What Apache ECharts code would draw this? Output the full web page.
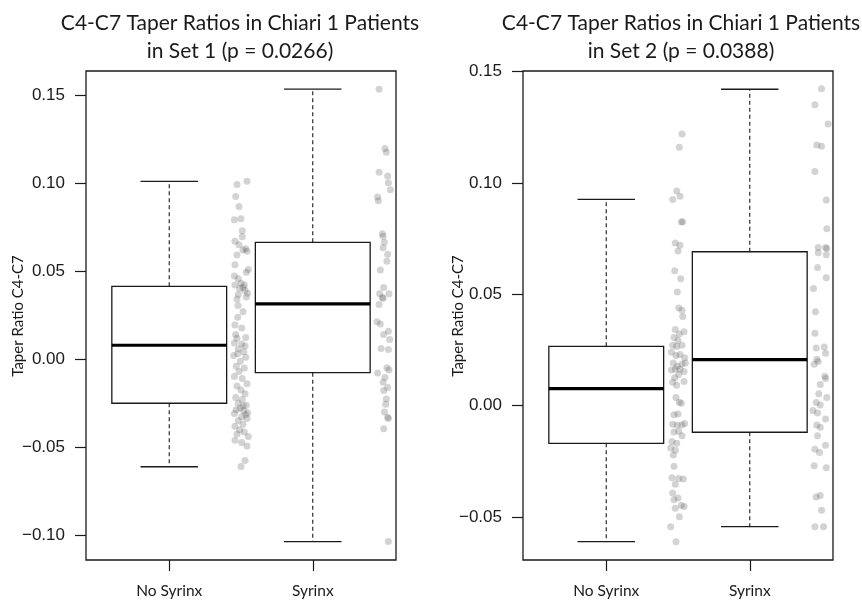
<!DOCTYPE html>
<html><head><meta charset="utf-8">
<script src="https://cdn.jsdelivr.net/npm/echarts@6/dist/echarts.min.js"></script>
<style>html,body{margin:0;padding:0;background:#fff}#c{width:862px;height:600px}</style>
</head><body><div id="c"></div>
<script>
// ---------- data ----------
const categories = ['No Syrinx', 'Syrinx'];
const title1 = ['C4-C7 Taper Ratios in Chiari 1 Patients', 'in Set 1 (p = 0.0266)'];
const title2 = ['C4-C7 Taper Ratios in Chiari 1 Patients', 'in Set 2 (p = 0.0388)'];
const yAxisName = 'Taper Ratio C4-C7';
const yTicks1 = [-0.10, -0.05, 0.00, 0.05, 0.10, 0.15];
const yTicks2 = [-0.05, 0.00, 0.05, 0.10, 0.15];

// box stats: [lower whisker, Q1, median, Q3, upper whisker]
const set1NoSyrinxBox = [-0.0613, -0.0252, 0.0078, 0.0413, 0.1010];
const set1SyrinxBox   = [-0.1038, -0.0078, 0.0313, 0.0663, 0.1534];
const set2NoSyrinxBox = [-0.0611, -0.0170, 0.0076, 0.0266, 0.0926];
const set2SyrinxBox   = [-0.0544, -0.0120, 0.0206, 0.0691, 0.1421];

// individual points (values) and their horizontal jitter (axis units)
const set1NoSyrinxValues = [0.1010,0.0992,0.0923,0.0866,0.0792,0.0797,0.0729,0.0695,0.0669,0.0649,0.0627,0.0612,0.0619,0.0591,0.0536,0.0508,0.0493,0.0471,0.0456,0.0430,0.0421,0.0406,0.0389,0.0373,0.0367,0.0352,0.0341,0.0304,0.0237,0.0193,0.0176,0.0139,0.0122,0.0091,0.0085,0.0056,0.0041,0.0020,0.0009,-0.0013,-0.0041,-0.0052,-0.0072,-0.0100,-0.0111,-0.0141,-0.0154,-0.0176,-0.0198,-0.0219,-0.0230,-0.0252,-0.0263,-0.0289,-0.0295,-0.0310,-0.0317,-0.0328,-0.0350,-0.0339,-0.0382,-0.0371,-0.0404,-0.0426,-0.0415,-0.0441,-0.0462,-0.0475,-0.0495,-0.0577,-0.0612,0.0421,0.0400,0.0269,0.0074,0.0030,-0.0267,-0.0280,-0.0306,0.0117];
const set1NoSyrinxJitter = [0.042,-0.028,-0.037,-0.014,-0.046,0,0.009,0.009,-0.042,-0.014,0.033,0.042,0.014,-0.028,-0.042,0.051,0.037,-0.046,-0.019,0,-0.042,0.014,0.028,0.046,-0.019,0.037,-0.028,-0.021,-0.023,-0.042,0.005,-0.037,0.033,-0.046,0.005,-0.019,0.019,-0.051,0.033,-0.005,-0.033,0.023,-0.014,-0.046,0.009,0.042,-0.028,0,0.028,-0.037,0.009,-0.019,0.037,-0.033,0.019,-0.046,0.033,0.005,-0.019,0.042,-0.042,0.014,-0.009,-0.028,0.023,0.051,-0.042,0.005,0.042,0.028,0,0.023,-0.009,0.014,0.028,-0.023,0.014,-0.005,0.046,-0.028];

const set1SyrinxValues = [0.1533,0.1196,0.1175,0.1062,0.1040,0.1001,0.0962,0.0920,0.0899,0.0712,0.0697,0.0664,0.0632,0.0595,0.0556,0.0506,0.0406,0.0371,0.0350,0.0371,0.0310,0.0345,0.0211,0.0198,0.0158,0.0139,0.0111,0.0059,0.0054,-0.0080,-0.0050,-0.0063,-0.0106,-0.0132,-0.0163,-0.0180,-0.0228,-0.0258,-0.0302,-0.0332,-0.0397,-0.0339,-0.1038];
const set1SyrinxJitter = [-0.038,0.003,0.013,-0.038,0.022,0.027,0.041,-0.048,-0.043,-0.015,-0.010,-0.001,-0.010,0.022,0.017,-0.029,-0.006,-0.034,-0.015,0.031,-0.038,-0.010,-0.052,-0.029,0.027,-0.006,0.036,-0.024,0.027,-0.048,0.017,0.031,0.003,-0.010,0.022,-0.006,0.013,0.008,-0.001,0.022,-0.006,0.027,0.027];

const set2NoSyrinxValues = [0.1220,0.1160,0.0964,0.0926,0.0940,0.0825,0.0826,0.0730,0.0720,0.0694,0.0605,0.0570,0.0510,0.0438,0.0428,0.0400,0.0342,0.0332,0.0321,0.0306,0.0292,0.0271,0.0265,0.0271,0.0239,0.0225,0.0229,0.0215,0.0191,0.0177,0.0187,0.0191,0.0160,0.0163,0.0163,0.0153,0.0139,0.0125,0.0108,0.0105,0.0091,0.0036,0.0015,0.0010,-0.0041,-0.0038,-0.0084,-0.0088,-0.0088,-0.0081,-0.0119,-0.0115,-0.0136,-0.0162,-0.0170,-0.0191,-0.0201,-0.0222,-0.0273,-0.0325,-0.0328,-0.0330,-0.0354,-0.0393,-0.0423,-0.0416,-0.0462,-0.0448,-0.0454,-0.0500,-0.0545,-0.0612];
const set2NoSyrinxJitter = [0.028,0.009,-0.009,-0.037,0.014,0.023,0.033,-0.019,0.014,0,-0.023,0.019,-0.005,0.005,0.028,0.033,-0.019,0.042,0.009,-0.028,0,-0.037,-0.009,0.028,-0.046,-0.014,0.014,0.046,-0.033,-0.005,0.028,0.051,-0.046,-0.019,0.014,0.042,0.005,-0.023,0.042,-0.037,-0.009,-0.014,0.009,0.023,-0.028,0,-0.037,-0.005,0.028,0.046,-0.028,0.005,0.028,-0.042,-0.009,-0.051,-0.019,-0.033,-0.028,-0.042,0.005,0.037,-0.019,-0.037,-0.028,0,-0.019,0.023,0.042,0.009,-0.051,-0.014];

const set2SyrinxValues = [0.1423,0.1351,0.1265,0.1170,0.1165,0.1052,0.0923,0.0794,0.0710,0.0710,0.0706,0.0686,0.0677,0.0620,0.0574,0.0526,0.0421,0.0325,0.0259,0.0263,0.0235,0.0208,0.0198,0.0186,0.0131,0.0122,0.0095,0.0053,0.0036,0.0014,0.0002,-0.0022,-0.0033,-0.0060,-0.0088,-0.0098,-0.0136,-0.0179,-0.0196,-0.0211,-0.0270,-0.0280,-0.0411,-0.0404,-0.0471,-0.0545,-0.0545];
const set2SyrinxJitter = [0,-0.046,0.046,-0.033,0,-0.046,0.033,0.037,-0.023,0.028,0.037,-0.023,0.033,-0.028,0.033,-0.056,-0.042,-0.046,-0.037,0.019,0.028,-0.033,-0.023,-0.051,0.023,0.028,-0.009,-0.019,0.037,-0.037,-0.009,-0.060,-0.028,0.028,-0.033,-0.009,-0.028,0.028,-0.046,-0.014,-0.051,0.033,-0.037,-0.009,0,-0.046,0.014];

// ---------- chart ----------
const boxPos = [1, 2];          // R boxplot positions
const stripPos = [1.5, 2.5];    // strip chart positions
const FONT_SANS = 'Lato';
const INK = '#1a1a1a';

function pts(values, jitter, center) {
  return values.map((v, i) => [center + jitter[i], v]);
}

function boxRender(params, api) {
  const x = api.value(0);
  const lo = api.value(1), q1 = api.value(2), med = api.value(3), q3 = api.value(4), hi = api.value(5);
  const half = 0.4, capHalf = 0.2;
  const c = (xx, yy) => api.coord([xx, yy]);
  const dash = { stroke: INK, lineWidth: 1.1, lineDash: [4, 3], fill: null };
  const solid = { stroke: INK, lineWidth: 1.3, fill: null };
  const seg = (a, b, style) => ({ type: 'line', shape: { x1: a[0], y1: a[1], x2: b[0], y2: b[1] }, style });
  const tl = c(x - half, q3), br = c(x + half, q1);
  return {
    type: 'group',
    children: [
      seg(c(x, q3), c(x, hi), dash),
      seg(c(x, q1), c(x, lo), dash),
      seg(c(x - capHalf, hi), c(x + capHalf, hi), solid),
      seg(c(x - capHalf, lo), c(x + capHalf, lo), solid),
      { type: 'rect', shape: { x: tl[0], y: tl[1], width: br[0] - tl[0], height: br[1] - tl[1] }, style: { stroke: INK, lineWidth: 1.3, fill: '#fff' } },
      seg(c(x - half, med), c(x + half, med), { stroke: '#000', lineWidth: 3.2 })
    ]
  };
}

const fmtY = v => (v < 0 ? '\u2212' : '') + Math.abs(v).toFixed(2);

function xAxis(gi) {
  return {
    gridIndex: gi, type: 'value', min: 0.42, max: 2.58,
    splitLine: { show: false },
    axisLine: { show: false, onZero: false },
    axisTick: { show: true, length: 11, customValues: boxPos, lineStyle: { color: INK, width: 1.2 } },
    axisLabel: { customValues: boxPos, formatter: v => categories[Math.round(v) - 1], margin: 23,
      fontSize: 15.5, fontFamily: FONT_SANS, color: INK }
  };
}
function yAxis(gi, min, max, ticks) {
  return {
    gridIndex: gi, type: 'value', min, max,
    splitLine: { show: false },
    axisLine: { show: false, onZero: false },
    axisTick: { show: true, length: 11, customValues: ticks, lineStyle: { color: INK, width: 1.2 } },
    axisLabel: { customValues: ticks, formatter: fmtY, margin: 21, fontSize: 17,
      fontFamily: 'Liberation Sans', color: INK }
  };
}

const gridW = 310, gridH = 489, gridTop = 71;
const lefts = [86, 523];

const pointStyle = { color: 'rgba(85,85,85,0.32)' };
const titleFont = '21px Lato';

const option = {
  animation: false,
  backgroundColor: '#fff',
  grid: lefts.map(l => ({ left: l, top: gridTop, width: gridW, height: gridH, show: true,
    borderColor: INK, borderWidth: 1.3, backgroundColor: 'transparent' })),
  xAxis: [xAxis(0), xAxis(1)],
  yAxis: [yAxis(0, -0.1143, 0.1637, yTicks1), yAxis(1, -0.0694, 0.1503, yTicks2)],
  series: [
    { type: 'custom', xAxisIndex: 0, yAxisIndex: 0, renderItem: boxRender,
      encode: { x: 0, y: [1, 2, 3, 4, 5] },
      data: [[boxPos[0], ...set1NoSyrinxBox], [boxPos[1], ...set1SyrinxBox]] },
    { type: 'custom', xAxisIndex: 1, yAxisIndex: 1, renderItem: boxRender,
      encode: { x: 0, y: [1, 2, 3, 4, 5] },
      data: [[boxPos[0], ...set2NoSyrinxBox], [boxPos[1], ...set2SyrinxBox]] },
    { type: 'scatter', xAxisIndex: 0, yAxisIndex: 0, symbolSize: 7, itemStyle: pointStyle,
      data: pts(set1NoSyrinxValues, set1NoSyrinxJitter, stripPos[0]) },
    { type: 'scatter', xAxisIndex: 0, yAxisIndex: 0, symbolSize: 7, itemStyle: pointStyle,
      data: pts(set1SyrinxValues, set1SyrinxJitter, stripPos[1]) },
    { type: 'scatter', xAxisIndex: 1, yAxisIndex: 1, symbolSize: 7, itemStyle: pointStyle,
      data: pts(set2NoSyrinxValues, set2NoSyrinxJitter, stripPos[0]) },
    { type: 'scatter', xAxisIndex: 1, yAxisIndex: 1, symbolSize: 7, itemStyle: pointStyle,
      data: pts(set2SyrinxValues, set2SyrinxJitter, stripPos[1]) }
  ],
  graphic: [
    { type: 'text', x: 240, y: 23, style: { text: title1[0], align: 'center', verticalAlign: 'middle', font: titleFont, fill: INK } },
    { type: 'text', x: 240, y: 51, style: { text: title1[1], align: 'center', verticalAlign: 'middle', font: titleFont, fill: INK } },
    { type: 'text', x: 681, y: 23, style: { text: title2[0], align: 'center', verticalAlign: 'middle', font: titleFont, fill: INK } },
    { type: 'text', x: 681, y: 51, style: { text: title2[1], align: 'center', verticalAlign: 'middle', font: titleFont, fill: INK } },
    { type: 'text', x: 18, y: 316, rotation: Math.PI / 2, style: { text: yAxisName, align: 'center', verticalAlign: 'middle', font: '15px Lato', fill: INK } },
    { type: 'text', x: 458, y: 316, rotation: Math.PI / 2, style: { text: yAxisName, align: 'center', verticalAlign: 'middle', font: '15px Lato', fill: INK } }
  ]
};

const chart = echarts.init(document.getElementById('c'), null, { renderer: 'canvas' });
chart.setOption(option);
</script>
</body></html>
